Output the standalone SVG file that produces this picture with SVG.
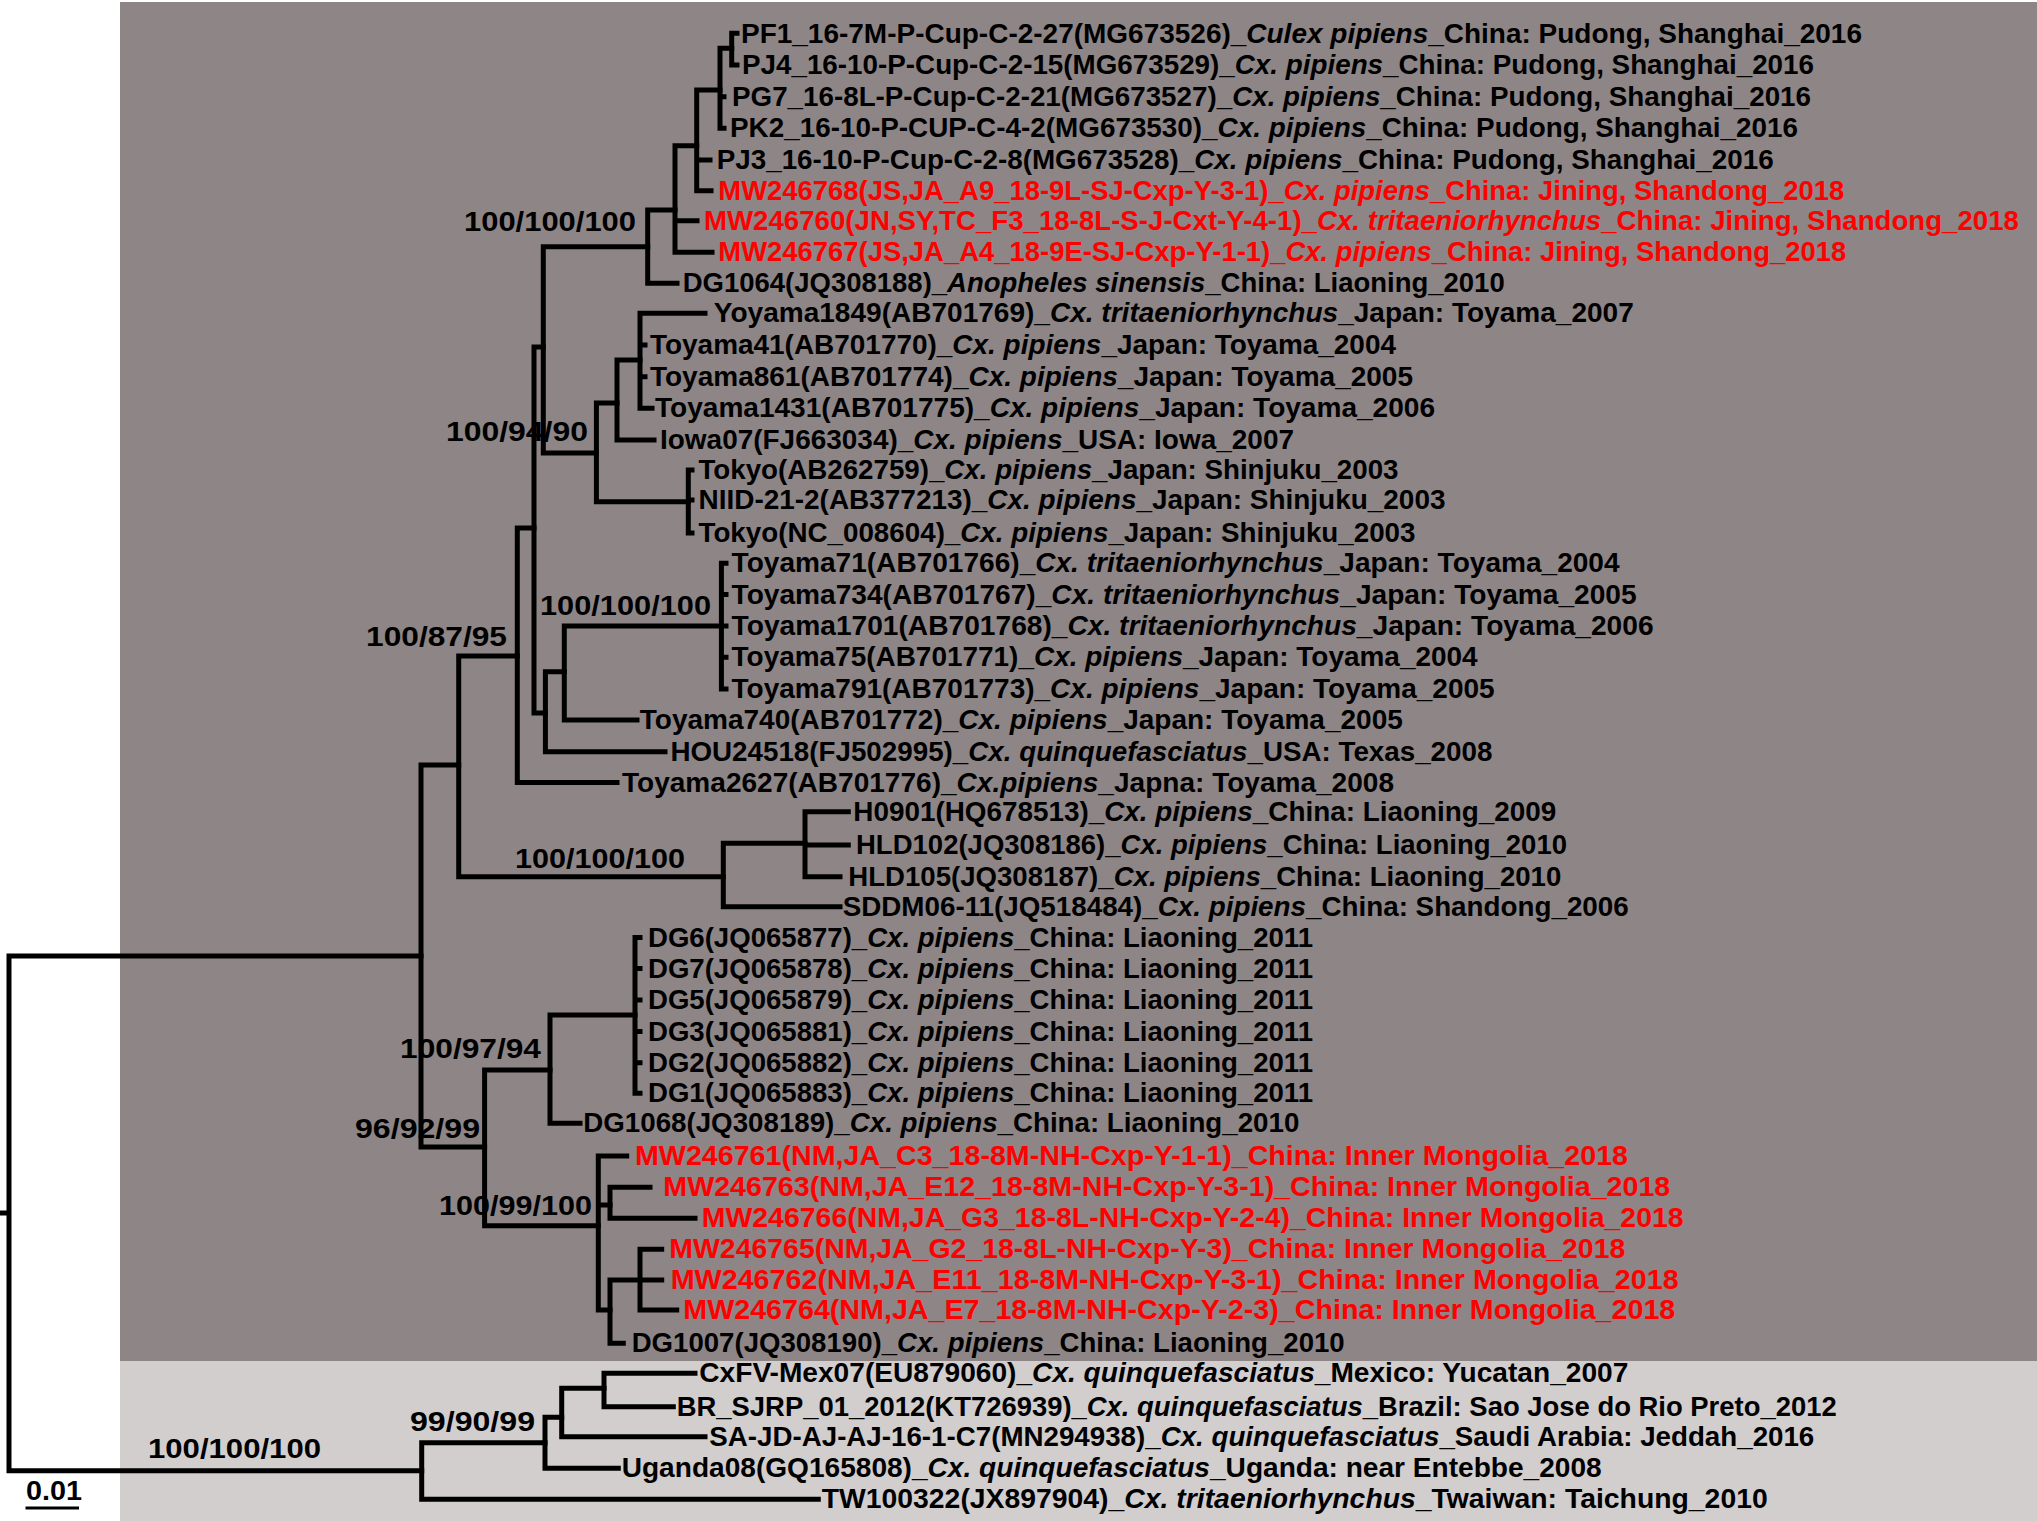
<svg xmlns="http://www.w3.org/2000/svg" width="2037" height="1521" viewBox="0 0 2037 1521">
<style>
.t{font-family:"Liberation Sans Narrow","Liberation Sans",Arial,sans-serif;font-weight:bold;font-size:27px;fill:#000}
.r{fill:#ff0000}
.i{font-style:italic}
.br{stroke:#000;stroke-width:5;fill:none;stroke-linecap:square}
</style>
<rect x="0" y="0" width="2037" height="1521" fill="#ffffff"/>
<rect x="120" y="2" width="1917" height="1359" fill="#8e8686"/>
<rect x="120" y="1361" width="1917" height="160" fill="#d2cece"/>
<g id="connectors" class="br">
<path d="M731.7 33.3V65M731.7 33.3H737M731.7 65H737"/>
<path d="M720 48.3V128.3M720 48.3H731.7M720 96.7H724M720 128.3H724"/>
<path d="M696.7 90V190.7M696.7 90H720M696.7 160H710M696.7 190.7H711"/>
<path d="M675 145.7V252.3M675 145.7H696.7M675 220.7H697M675 252.3H712"/>
<path d="M647.7 210V283.3M647.7 210H675M647.7 283.3H677"/>
<path d="M543.3 246.7V453M543.3 246.7H647.7M543.3 453H596.4"/>
<path d="M596.4 403V501.7M596.4 403H617M596.4 501.7H688.3"/>
<path d="M617 360V440M617 360H640M617 440H654"/>
<path d="M640 313.3V408.3M640 313.3H705M640 345H645M640 376.7H645M640 408.3H652"/>
<path d="M688.3 470V533M688.3 470H692M688.3 500H692M688.3 533H692"/>
<path d="M534 347V713M534 347H543.3M534 713H545.4"/>
<path d="M545.4 671.7V751.7M545.4 671.7H564.3M545.4 751.7H665"/>
<path d="M564.3 626V720M564.3 626H721.4M564.3 720H637"/>
<path d="M721.4 563.3V689M721.4 563.3H726M721.4 594.5H726M721.4 626H726M721.4 657.3H726M721.4 689H726"/>
<path d="M517.3 528V782.5M517.3 528H534M517.3 782.5H617"/>
<path d="M458.7 656V876.7M458.7 656H517.3M458.7 876.7H723.3"/>
<path d="M723.3 843.3V906.7M723.3 843.3H805M723.3 906.7H840"/>
<path d="M805 811.7V876.7M805 811.7H848.3M805 845H848.3M805 876.7H840"/>
<path d="M421 765V1147M421 765H458.7M421 1147H484.6"/>
<path d="M484.6 1070V1225.7M484.6 1070H550M484.6 1225.7H598.3"/>
<path d="M550 1015V1123.3M550 1015H635M550 1123.3H580"/>
<path d="M635 937.5V1093.3M635 937.5H640M635 968.5H640M635 1000H640M635 1031.5H640M635 1062.7H640M635 1093.3H640"/>
<path d="M598.3 1156V1310M598.3 1156H626.7M598.3 1205H610M598.3 1310H610"/>
<path d="M610 1187.3V1218.3M610 1187.3H650M610 1218.3H695"/>
<path d="M610 1280V1343.3M610 1280H640M610 1343.3H623.3"/>
<path d="M640 1249.3V1310M640 1249.3H661.7M640 1280H661.7M640 1310H676.7"/>
<path d="M9 956V1470.7M9 956H421M9 1470.7H421.7M0 1213H9"/>
<path d="M421.7 1442.7V1499.3M421.7 1442.7H545M421.7 1499.3H818.3"/>
<path d="M545 1417.3V1468.3M545 1417.3H561.7M545 1468.3H618.3"/>
<path d="M561.7 1388.3V1436.7M561.7 1388.3H604M561.7 1436.7H705"/>
<path d="M604 1373.3V1406.7M604 1373.3H695M604 1406.7H673.3"/>
</g>
<g id="support-labels" class="t">
<text x="464" y="231" textLength="172" lengthAdjust="spacingAndGlyphs">100/100/100</text>
<text x="446" y="441" textLength="142" lengthAdjust="spacingAndGlyphs">100/94/90</text>
<text x="366" y="645.5" textLength="141" lengthAdjust="spacingAndGlyphs">100/87/95</text>
<text x="540" y="614.5" textLength="171" lengthAdjust="spacingAndGlyphs">100/100/100</text>
<text x="515" y="867.5" textLength="170" lengthAdjust="spacingAndGlyphs">100/100/100</text>
<text x="400" y="1057.5" textLength="141" lengthAdjust="spacingAndGlyphs">100/97/94</text>
<text x="355" y="1137.5" textLength="125" lengthAdjust="spacingAndGlyphs">96/92/99</text>
<text x="439" y="1214.5" textLength="153" lengthAdjust="spacingAndGlyphs">100/99/100</text>
<text x="410" y="1431" textLength="125" lengthAdjust="spacingAndGlyphs">99/90/99</text>
<text x="148" y="1457.5" textLength="173" lengthAdjust="spacingAndGlyphs">100/100/100</text>
</g>
<g id="scale-bar">
<path d="M25.5 1508H79" stroke="#000" stroke-width="3"/>
<text class="t" x="26" y="1499.5" textLength="56" lengthAdjust="spacingAndGlyphs">0.01</text>
</g>
<g id="leaf-PF1"><text class="t" x="741" y="42.5" textLength="1121" lengthAdjust="spacingAndGlyphs">PF1_16-7M-P-Cup-C-2-27(MG673526)_<tspan class="i">Culex pipiens</tspan>_China: Pudong, Shanghai_2016</text></g>
<g id="leaf-PJ4"><text class="t" x="742" y="74" textLength="1072" lengthAdjust="spacingAndGlyphs">PJ4_16-10-P-Cup-C-2-15(MG673529)_<tspan class="i">Cx. pipiens</tspan>_China: Pudong, Shanghai_2016</text></g>
<g id="leaf-PG7"><text class="t" x="732" y="105.7" textLength="1079" lengthAdjust="spacingAndGlyphs">PG7_16-8L-P-Cup-C-2-21(MG673527)_<tspan class="i">Cx. pipiens</tspan>_China: Pudong, Shanghai_2016</text></g>
<g id="leaf-PK2"><text class="t" x="730" y="137.3" textLength="1068" lengthAdjust="spacingAndGlyphs">PK2_16-10-P-CUP-C-4-2(MG673530)_<tspan class="i">Cx. pipiens</tspan>_China: Pudong, Shanghai_2016</text></g>
<g id="leaf-PJ3"><text class="t" x="716.7" y="169" textLength="1057" lengthAdjust="spacingAndGlyphs">PJ3_16-10-P-Cup-C-2-8(MG673528)_<tspan class="i">Cx. pipiens</tspan>_China: Pudong, Shanghai_2016</text></g>
<g id="leaf-MW246768"><text class="t r" x="718.3" y="199.7" textLength="1126" lengthAdjust="spacingAndGlyphs">MW246768(JS,JA_A9_18-9L-SJ-Cxp-Y-3-1)_<tspan class="i">Cx. pipiens</tspan>_China: Jining, Shandong_2018</text></g>
<g id="leaf-MW246760"><text class="t r" x="704" y="229.7" textLength="1315" lengthAdjust="spacingAndGlyphs">MW246760(JN,SY,TC_F3_18-8L-S-J-Cxt-Y-4-1)_<tspan class="i">Cx. tritaeniorhynchus</tspan>_China: Jining, Shandong_2018</text></g>
<g id="leaf-MW246767"><text class="t r" x="718.3" y="261.3" textLength="1128" lengthAdjust="spacingAndGlyphs">MW246767(JS,JA_A4_18-9E-SJ-Cxp-Y-1-1)_<tspan class="i">Cx. pipiens</tspan>_China: Jining, Shandong_2018</text></g>
<g id="leaf-DG1064"><text class="t" x="682.7" y="292.3" textLength="822" lengthAdjust="spacingAndGlyphs">DG1064(JQ308188)_<tspan class="i">Anopheles sinensis</tspan>_China: Liaoning_2010</text></g>
<g id="leaf-Yoyama1849"><text class="t" x="713.8" y="322.3" textLength="920" lengthAdjust="spacingAndGlyphs">Yoyama1849(AB701769)_<tspan class="i">Cx. tritaeniorhynchus</tspan>_Japan: Toyama_2007</text></g>
<g id="leaf-Toyama41"><text class="t" x="650" y="354" textLength="746" lengthAdjust="spacingAndGlyphs">Toyama41(AB701770)_<tspan class="i">Cx. pipiens</tspan>_Japan: Toyama_2004</text></g>
<g id="leaf-Toyama861"><text class="t" x="650" y="385.7" textLength="763" lengthAdjust="spacingAndGlyphs">Toyama861(AB701774)_<tspan class="i">Cx. pipiens</tspan>_Japan: Toyama_2005</text></g>
<g id="leaf-Toyama1431"><text class="t" x="655" y="417.3" textLength="780" lengthAdjust="spacingAndGlyphs">Toyama1431(AB701775)_<tspan class="i">Cx. pipiens</tspan>_Japan: Toyama_2006</text></g>
<g id="leaf-Iowa07"><text class="t" x="660" y="449" textLength="634" lengthAdjust="spacingAndGlyphs">Iowa07(FJ663034)_<tspan class="i">Cx. pipiens</tspan>_USA: Iowa_2007</text></g>
<g id="leaf-Tokyo-AB262759"><text class="t" x="698.5" y="479" textLength="700" lengthAdjust="spacingAndGlyphs">Tokyo(AB262759)_<tspan class="i">Cx. pipiens</tspan>_Japan: Shinjuku_2003</text></g>
<g id="leaf-NIID-21-2"><text class="t" x="698.5" y="509" textLength="747" lengthAdjust="spacingAndGlyphs">NIID-21-2(AB377213)_<tspan class="i">Cx. pipiens</tspan>_Japan: Shinjuku_2003</text></g>
<g id="leaf-Tokyo-NC008604"><text class="t" x="698.5" y="542" textLength="717" lengthAdjust="spacingAndGlyphs">Tokyo(NC_008604)_<tspan class="i">Cx. pipiens</tspan>_Japan: Shinjuku_2003</text></g>
<g id="leaf-Toyama71"><text class="t" x="731.6" y="572.3" textLength="888" lengthAdjust="spacingAndGlyphs">Toyama71(AB701766)_<tspan class="i">Cx. tritaeniorhynchus</tspan>_Japan: Toyama_2004</text></g>
<g id="leaf-Toyama734"><text class="t" x="731.6" y="603.5" textLength="905" lengthAdjust="spacingAndGlyphs">Toyama734(AB701767)_<tspan class="i">Cx. tritaeniorhynchus</tspan>_Japan: Toyama_2005</text></g>
<g id="leaf-Toyama1701"><text class="t" x="731.6" y="635" textLength="922" lengthAdjust="spacingAndGlyphs">Toyama1701(AB701768)_<tspan class="i">Cx. tritaeniorhynchus</tspan>_Japan: Toyama_2006</text></g>
<g id="leaf-Toyama75"><text class="t" x="731.6" y="666.3" textLength="746" lengthAdjust="spacingAndGlyphs">Toyama75(AB701771)_<tspan class="i">Cx. pipiens</tspan>_Japan: Toyama_2004</text></g>
<g id="leaf-Toyama791"><text class="t" x="731.6" y="698" textLength="763" lengthAdjust="spacingAndGlyphs">Toyama791(AB701773)_<tspan class="i">Cx. pipiens</tspan>_Japan: Toyama_2005</text></g>
<g id="leaf-Toyama740"><text class="t" x="639.8" y="729" textLength="763" lengthAdjust="spacingAndGlyphs">Toyama740(AB701772)_<tspan class="i">Cx. pipiens</tspan>_Japan: Toyama_2005</text></g>
<g id="leaf-HOU24518"><text class="t" x="670.4" y="760.7" textLength="822" lengthAdjust="spacingAndGlyphs">HOU24518(FJ502995)_<tspan class="i">Cx. quinquefasciatus</tspan>_USA: Texas_2008</text></g>
<g id="leaf-Toyama2627"><text class="t" x="622" y="791.5" textLength="772" lengthAdjust="spacingAndGlyphs">Toyama2627(AB701776)_<tspan class="i">Cx.pipiens</tspan>_Japna: Toyama_2008</text></g>
<g id="leaf-H0901"><text class="t" x="853.3" y="820.7" textLength="703" lengthAdjust="spacingAndGlyphs">H0901(HQ678513)_<tspan class="i">Cx. pipiens</tspan>_China: Liaoning_2009</text></g>
<g id="leaf-HLD102"><text class="t" x="856" y="854" textLength="711" lengthAdjust="spacingAndGlyphs">HLD102(JQ308186)_<tspan class="i">Cx. pipiens</tspan>_China: Liaoning_2010</text></g>
<g id="leaf-HLD105"><text class="t" x="848.3" y="885.7" textLength="713" lengthAdjust="spacingAndGlyphs">HLD105(JQ308187)_<tspan class="i">Cx. pipiens</tspan>_China: Liaoning_2010</text></g>
<g id="leaf-SDDM06-11"><text class="t" x="842.7" y="915.7" textLength="786" lengthAdjust="spacingAndGlyphs">SDDM06-11(JQ518484)_<tspan class="i">Cx. pipiens</tspan>_China: Shandong_2006</text></g>
<g id="leaf-DG6"><text class="t" x="648" y="946.5" textLength="665" lengthAdjust="spacingAndGlyphs">DG6(JQ065877)_<tspan class="i">Cx. pipiens</tspan>_China: Liaoning_2011</text></g>
<g id="leaf-DG7"><text class="t" x="648" y="977.5" textLength="665" lengthAdjust="spacingAndGlyphs">DG7(JQ065878)_<tspan class="i">Cx. pipiens</tspan>_China: Liaoning_2011</text></g>
<g id="leaf-DG5"><text class="t" x="648" y="1009" textLength="665" lengthAdjust="spacingAndGlyphs">DG5(JQ065879)_<tspan class="i">Cx. pipiens</tspan>_China: Liaoning_2011</text></g>
<g id="leaf-DG3"><text class="t" x="648" y="1040.5" textLength="665" lengthAdjust="spacingAndGlyphs">DG3(JQ065881)_<tspan class="i">Cx. pipiens</tspan>_China: Liaoning_2011</text></g>
<g id="leaf-DG2"><text class="t" x="648" y="1071.7" textLength="665" lengthAdjust="spacingAndGlyphs">DG2(JQ065882)_<tspan class="i">Cx. pipiens</tspan>_China: Liaoning_2011</text></g>
<g id="leaf-DG1"><text class="t" x="648" y="1102.3" textLength="665" lengthAdjust="spacingAndGlyphs">DG1(JQ065883)_<tspan class="i">Cx. pipiens</tspan>_China: Liaoning_2011</text></g>
<g id="leaf-DG1068"><text class="t" x="583.3" y="1132.3" textLength="716" lengthAdjust="spacingAndGlyphs">DG1068(JQ308189)_<tspan class="i">Cx. pipiens</tspan>_China: Liaoning_2010</text></g>
<g id="leaf-MW246761"><text class="t r" x="635" y="1165" textLength="993" lengthAdjust="spacingAndGlyphs">MW246761(NM,JA_C3_18-8M-NH-Cxp-Y-1-1)_China: Inner Mongolia_2018</text></g>
<g id="leaf-MW246763"><text class="t r" x="663.3" y="1196.3" textLength="1007" lengthAdjust="spacingAndGlyphs">MW246763(NM,JA_E12_18-8M-NH-Cxp-Y-3-1)_China: Inner Mongolia_2018</text></g>
<g id="leaf-MW246766"><text class="t r" x="701.7" y="1227.3" textLength="982" lengthAdjust="spacingAndGlyphs">MW246766(NM,JA_G3_18-8L-NH-Cxp-Y-2-4)_China: Inner Mongolia_2018</text></g>
<g id="leaf-MW246765"><text class="t r" x="669.3" y="1258.3" textLength="956" lengthAdjust="spacingAndGlyphs">MW246765(NM,JA_G2_18-8L-NH-Cxp-Y-3)_China: Inner Mongolia_2018</text></g>
<g id="leaf-MW246762"><text class="t r" x="670.7" y="1289" textLength="1008" lengthAdjust="spacingAndGlyphs">MW246762(NM,JA_E11_18-8M-NH-Cxp-Y-3-1)_China: Inner Mongolia_2018</text></g>
<g id="leaf-MW246764"><text class="t r" x="683.3" y="1319" textLength="992" lengthAdjust="spacingAndGlyphs">MW246764(NM,JA_E7_18-8M-NH-Cxp-Y-2-3)_China: Inner Mongolia_2018</text></g>
<g id="leaf-DG1007"><text class="t" x="631.7" y="1352.3" textLength="713" lengthAdjust="spacingAndGlyphs">DG1007(JQ308190)_<tspan class="i">Cx. pipiens</tspan>_China: Liaoning_2010</text></g>
<g id="leaf-CxFV-Mex07"><text class="t" x="699.3" y="1382.3" textLength="929" lengthAdjust="spacingAndGlyphs">CxFV-Mex07(EU879060)_<tspan class="i">Cx. quinquefasciatus</tspan>_Mexico: Yucatan_2007</text></g>
<g id="leaf-BR_SJRP"><text class="t" x="676.7" y="1415.7" textLength="1160" lengthAdjust="spacingAndGlyphs">BR_SJRP_01_2012(KT726939)_<tspan class="i">Cx. quinquefasciatus</tspan>_Brazil: Sao Jose do Rio Preto_2012</text></g>
<g id="leaf-SA-JD"><text class="t" x="709.3" y="1445.7" textLength="1105" lengthAdjust="spacingAndGlyphs">SA-JD-AJ-AJ-16-1-C7(MN294938)_<tspan class="i">Cx. quinquefasciatus</tspan>_Saudi Arabia: Jeddah_2016</text></g>
<g id="leaf-Uganda08"><text class="t" x="621.7" y="1477.3" textLength="980" lengthAdjust="spacingAndGlyphs">Uganda08(GQ165808)_<tspan class="i">Cx. quinquefasciatus</tspan>_Uganda: near Entebbe_2008</text></g>
<g id="leaf-TW100322"><text class="t" x="821.7" y="1508.3" textLength="946" lengthAdjust="spacingAndGlyphs">TW100322(JX897904)_<tspan class="i">Cx. tritaeniorhynchus</tspan>_Twaiwan: Taichung_2010</text></g>
</svg>
